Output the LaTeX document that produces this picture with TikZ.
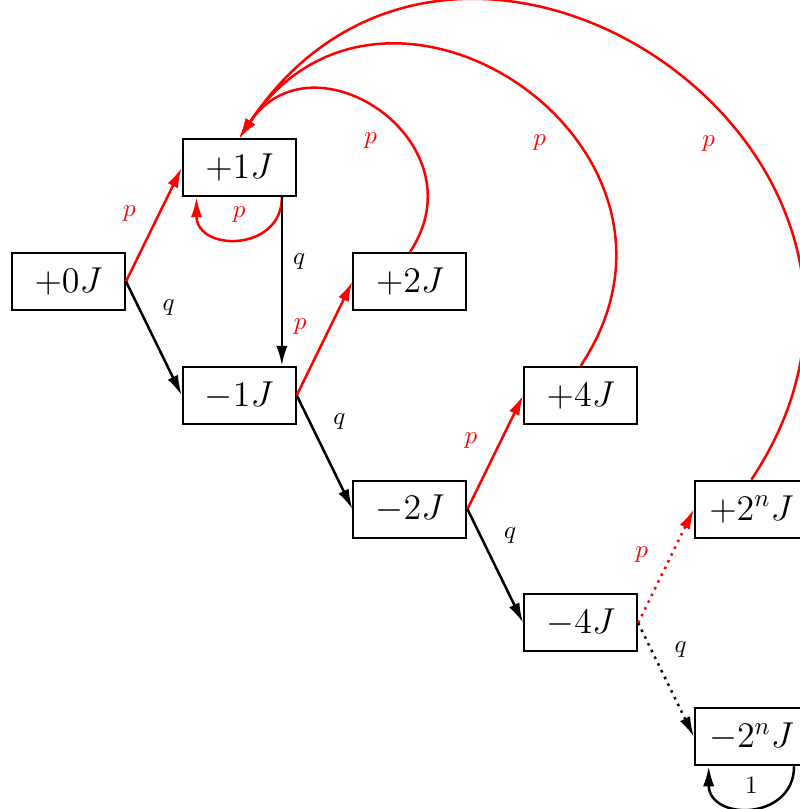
\documentclass[tikz,border=0pt]{standalone}
\usepackage{amsmath}
\usetikzlibrary{arrows.meta}
\tikzset{
  energy/.style={draw, thick, minimum width=45.2pt, minimum height=22.8pt,
                 font=\Large, inner sep=2pt},
  plink/.style={->, >={Latex[length=8pt, width=4.5pt]}, line width=1pt, red},
  qlink/.style={->, >={Latex[length=8pt, width=4.5pt]}, line width=1pt, black},
  lab/.style={font=\normalsize, inner sep=1pt},
  back/.style={bend right=90, looseness=1.64},
}

\begin{document}
\begin{tikzpicture}[x=2.4cm, y=1.6cm]
    \useasboundingbox (-27.4pt,112.6pt) rectangle (292.2pt,-211pt);
    % energy levels
    \node[energy] (p0) at (0, 0) {$+0J$};
    \node[energy] (p1) at (1, 1) {$+1J$};
    \node[energy] (m1) at (1, -1) {$-1J$};
    \node[energy] (p2) at (2, 0) {$+2J$};
    \node[energy] (m2) at (2, -2) {$-2J$};
    \node[energy] (p4) at (3, -1) {$+4J$};
    \node[energy] (m4) at (3, -3) {$-4J$};
    \node[energy] (pn) at (4, -2) {$+2^nJ$};
    \node[energy] (mn) at (4, -4) {$-2^nJ$};
    % steps
    \draw[plink] (p0.east) -- node[lab, pos=0.6, left=8pt] {$p$} (p1.west);
    \draw[qlink] (p0.east) -- node[lab, pos=0.23, right=8pt] {$q$} (m1.west);
    \draw[plink] ([xshift=0.6cm]p1.south) to[out=-90, in=-90, looseness=1.65]
        node[lab, above=5pt] {$p$} ([xshift=-0.6cm]p1.south);
    \draw[qlink] ([xshift=0.6cm]p1.south) -- node[lab, pos=0.38, right=3pt] {$q$} ([xshift=0.6cm]m1.north);
    \draw[plink] (m1.east) -- node[lab, pos=0.6, left=8pt] {$p$} (p2.west);
    \draw[qlink] (m1.east) -- node[lab, pos=0.23, right=8pt] {$q$} (m2.west);
    \draw[plink] (m2.east) -- node[lab, pos=0.6, left=8pt] {$p$} (p4.west);
    \draw[qlink] (m2.east) -- node[lab, pos=0.23, right=8pt] {$q$} (m4.west);
    \draw[plink, dotted] (m4.east) -- node[lab, pos=0.6, left=8pt] {$p$} (pn.west);
    \draw[qlink, dotted] (m4.east) -- node[lab, pos=0.23, right=8pt] {$q$} (mn.west);
    \draw[qlink] ([xshift=0.6cm]mn.south) to[out=-90, in=-90, looseness=1.65]
        node[lab, above=4pt] {$1$} ([xshift=-0.6cm]mn.south);
    % back to +1J
    \draw[plink] (p2.north) to[back] node[lab, pos=0.37, left=11pt] {$p$} (p1.north);
    \draw[plink] (p4.north) to[back] node[lab, pos=0.37, left=11pt] {$p$} (p1.north);
    \draw[plink] (pn.north) to[back] node[lab, pos=0.37, left=11pt] {$p$} (p1.north);
\end{tikzpicture}
\end{document}
